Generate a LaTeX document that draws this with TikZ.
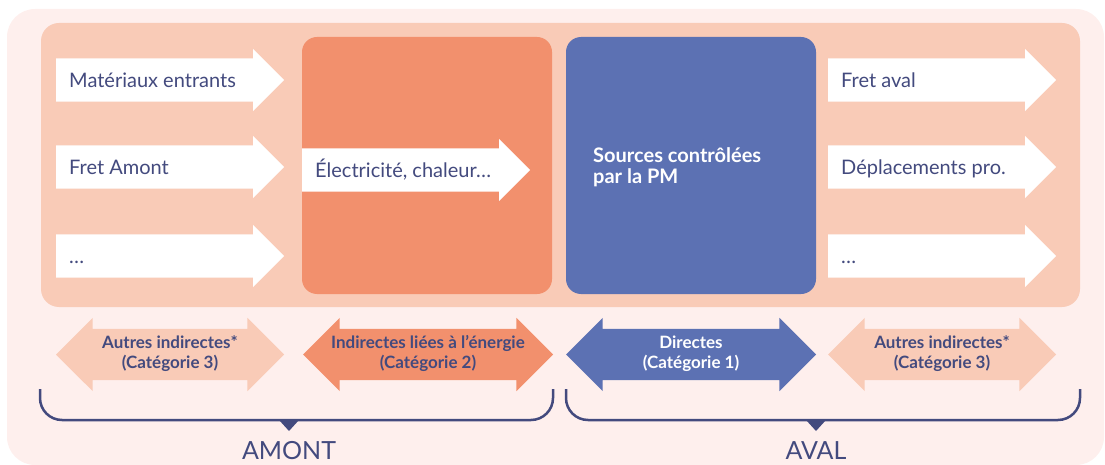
\documentclass[tikz,border=0pt]{standalone}
\usepackage{fontspec}
\setmainfont{Lato}
\usetikzlibrary{shapes.arrows,positioning}

\definecolor{bgpink}{HTML}{FEEFED}
\definecolor{peach}{HTML}{F9CBB7}
\definecolor{coral}{HTML}{F2906D}
\definecolor{pmblue}{HTML}{5C71B3}
\definecolor{navy}{HTML}{434A7E}

\begin{document}
\begin{tikzpicture}[
        x=1pt, y=-1pt,
        flow/.style={single arrow, fill=white, inner xsep=0pt, inner ysep=21.5pt, single arrow head extend=9.5pt, minimum height=228pt, anchor=tail},
        flow_label/.style={inner sep=0pt, text height=16pt, text depth=1pt, font=\fontsize{20}{22}\selectfont, text=navy},
        category/.style={double arrow, inner xsep=0pt, inner ysep=25.5pt, double arrow head extend=11pt},
        category_label/.style={align=center, inner sep=0pt, font=\fontsize{17}{20}\selectfont\bfseries, text=navy},
        brace/.style={draw=navy, line width=2.5pt, rounded corners=22pt},
        side_label/.style={font=\fontsize{25}{28}\selectfont, text=navy}
    ]
        \useasboundingbox (0,0) rectangle (1105,465);

        % Backgrounds
        \fill[bgpink, rounded corners=28pt] (7,9) rectangle (1104,465);
        \fill[peach, rounded corners=18pt] (41,23) rectangle (1080,307);
        \fill[coral, rounded corners=15pt] (302,37) rectangle (552,294);
        \fill[pmblue, rounded corners=15pt] (566,37) rectangle (816,294);

        % Amont: flows in
        \node[flow] (mat) at (56,80) {};
        \node[flow] (fret_amont) at (56,167) {};
        \node[flow] (autres_amont) at (56,256) {};
        \node[flow_label, right=13pt of mat.tail] (mat_txt) {Matériaux entrants};
        \node[flow_label, right=13pt of fret_amont.tail] (fret_amont_txt) {Fret Amont};
        \node[flow_label, right=13pt of autres_amont.tail] (autres_amont_txt) {…};

        % Energie
        \node[flow] (elec) at (302,170) {};
        \node[flow_label, right=13pt of elec.tail] (elec_txt) {Électricité, chaleur…};

        % Sources of the PM
        \node[anchor=north west, align=left, inner sep=0pt, text=white, font=\fontsize{20}{21.5}\selectfont\bfseries] (pm_txt) at (593,147) {Sources contrôlées\\par la PM};

        % Aval: flows out
        \node[flow] (fret_aval) at (828,80) {};
        \node[flow] (depl) at (828,167) {};
        \node[flow] (autres_aval) at (828,256) {};
        \node[flow_label, right=13pt of fret_aval.tail] (fret_aval_txt) {Fret aval};
        \node[flow_label, right=13pt of depl.tail] (depl_txt) {Déplacements pro.};
        \node[flow_label, right=13pt of autres_aval.tail] (autres_aval_txt) {…};

        % Categories
        \node[category, fill=peach, minimum height=228pt] (cat3_amont) at (170,354.5) {};
        \node[category, fill=coral, minimum height=250pt] (cat2) at (428,354.5) {};
        \node[category, fill=pmblue, minimum height=250pt] (cat1) at (691,354.5) {};
        \node[category, fill=peach, minimum height=228pt] (cat3_aval) at (942,354.5) {};
        \node[category_label] (cat3_amont_txt) at ([yshift=1pt]cat3_amont) {Autres indirectes*\\(Catégorie 3)};
        \node[category_label] (cat2_txt) at ([yshift=1pt]cat2) {Indirectes liées à l’énergie\\(Catégorie 2)};
        \node[category_label, text=white] (cat1_txt) at ([yshift=1pt]cat1) {Directes\\(Catégorie 1)};
        \node[category_label] (cat3_aval_txt) at ([yshift=1pt]cat3_aval) {Autres indirectes*\\(Catégorie 3)};

        % Braces
        \draw[brace] (40,389) -- (40,420) -- (553,420) -- (553,389);
        \draw[brace] (566,389) -- (566,420) -- (1080,420) -- (1080,389);
        \fill[navy] (279,420) -- (299,420) -- (289,431) -- cycle;
        \fill[navy] (806,420) -- (826,420) -- (816,431) -- cycle;

        % Labels
        \node[side_label] (amont) at (289,451) {AMONT};
        \node[side_label] (aval) at (816,451) {AVAL};

\end{tikzpicture}
\end{document}
